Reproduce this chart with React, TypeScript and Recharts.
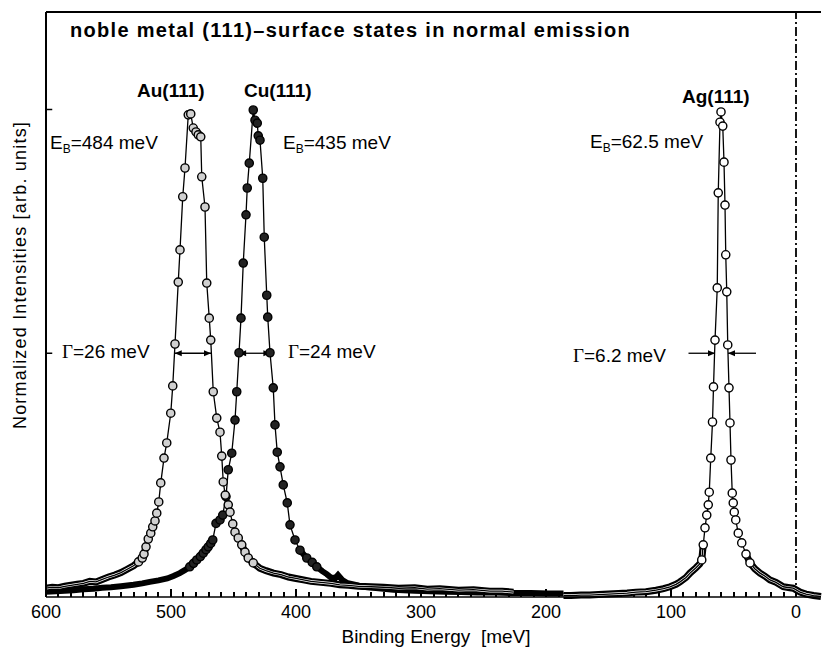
import { LineChart, Line, XAxis, YAxis, ReferenceLine } from 'recharts';

type Pt = { e: number; v: number };

// binding energy [meV], normalized intensity
const auPoints: [number, number][] = [
  [600, 0.018], [595, 0.02], [590, 0.019], [585, 0.022], [580, 0.024], [575, 0.026], [570, 0.028],
  [565, 0.032], [560, 0.031], [555, 0.036], [550, 0.041], [545, 0.045], [540, 0.05], [535, 0.057],
  [530, 0.064], [526, 0.072], [523, 0.08], [521.6, 0.088], [520, 0.103], [518.2, 0.119],
  [516.2, 0.131], [514.6, 0.144], [512.8, 0.156], [511.4, 0.172], [509.8, 0.195], [508.2, 0.234],
  [505.6, 0.285], [503.4, 0.316], [500.2, 0.377], [498.6, 0.433], [496.8, 0.519], [494.2, 0.646],
  [492.8, 0.712], [490.6, 0.821], [488.8, 0.88], [486.2, 0.989], [484.2, 0.991], [482.2, 0.962],
  [480, 0.954], [478.2, 0.948], [476.2, 0.944], [475.4, 0.862], [472.8, 0.8], [471.4, 0.644],
  [469.4, 0.572], [468.2, 0.527], [466.2, 0.421], [463.4, 0.367], [460.8, 0.338], [459.4, 0.289],
  [458.2, 0.236], [456.6, 0.209], [454.2, 0.189], [452.8, 0.174], [450.6, 0.15], [448.8, 0.133],
  [446.2, 0.121], [443.4, 0.107], [440.8, 0.092], [438.2, 0.08], [434.2, 0.07], [429, 0.059],
  [424, 0.054], [418, 0.049], [412, 0.046], [406, 0.041], [400, 0.038], [394, 0.035], [388, 0.032],
  [380, 0.03], [372, 0.028], [365, 0.025], [358, 0.024], [350, 0.022], [340, 0.021], [330, 0.02],
  [318, 0.018], [305, 0.019], [295, 0.016], [285, 0.017], [270, 0.014], [258, 0.015], [245, 0.012],
  [235, 0.012], [226, 0.01],
];

const cuPoints: [number, number][] = [
  [600, 0.011], [592, 0.012], [585, 0.013], [578, 0.014], [570, 0.016], [562, 0.017], [555, 0.019],
  [548, 0.02], [540, 0.022], [530, 0.025], [523, 0.028], [517, 0.031], [510, 0.034], [503, 0.038],
  [498, 0.043], [493, 0.049], [489, 0.055], [485, 0.062], [482, 0.069], [479.4, 0.076],
  [476.5, 0.083], [474.2, 0.09], [472, 0.097], [470.2, 0.103], [468.2, 0.11], [466.6, 0.117],
  [464, 0.151], [460.8, 0.158], [458.6, 0.168], [456, 0.206], [454.2, 0.261], [451.4, 0.295],
  [448.8, 0.363], [447.4, 0.421], [445.6, 0.501], [444, 0.572], [442.2, 0.685], [440, 0.784],
  [439, 0.839], [437.4, 0.89], [434.2, 0.999], [432.8, 0.978], [431, 0.972], [430.2, 0.946],
  [428.8, 0.937], [426.6, 0.859], [425.4, 0.738], [423.4, 0.619], [422.6, 0.574], [420.8, 0.501],
  [418.2, 0.429], [416.8, 0.353], [415, 0.297], [412.8, 0.267], [410.2, 0.23], [407, 0.193],
  [404.8, 0.148], [400.8, 0.117], [396.8, 0.096], [391.4, 0.08], [387, 0.071], [383.4, 0.062],
  [379, 0.053], [375.4, 0.047], [372, 0.04], [368.5, 0.039], [366.4, 0.045], [363, 0.035],
  [359.4, 0.029], [354, 0.026], [346.4, 0.021], [338, 0.019], [330, 0.017], [322, 0.015],
  [314, 0.014], [305, 0.013], [293, 0.012], [280, 0.011], [268, 0.01], [255, 0.009], [240, 0.009],
  [226, 0.008], [212, 0.008], [198, 0.007], [186, 0.007],
];

const agPoints: [number, number][] = [
  [186, 0.003], [180, 0.003], [172, 0.004], [165, 0.004], [158, 0.005], [150, 0.006], [142, 0.007],
  [135, 0.008], [128, 0.01], [120, 0.011], [112, 0.014], [106, 0.017], [100.8, 0.021], [96, 0.026],
  [92.8, 0.031], [88, 0.04], [84.8, 0.049], [80, 0.06], [77, 0.068], [75.4, 0.076], [74.2, 0.107],
  [72.8, 0.142], [71.4, 0.168], [70.2, 0.189], [69.4, 0.215], [68.2, 0.285], [66.8, 0.359],
  [66, 0.431], [64.8, 0.527], [63, 0.634], [62.2, 0.829], [60.8, 0.974], [60, 0.995], [58.6, 0.966],
  [57.6, 0.892], [56.8, 0.804], [56.2, 0.702], [55.4, 0.626], [54.6, 0.517], [53.6, 0.429],
  [52.8, 0.357], [52, 0.281], [51, 0.213], [50.2, 0.193], [49.4, 0.174], [48.2, 0.158],
  [46.2, 0.131], [43.4, 0.111], [40, 0.088], [36.8, 0.07], [33, 0.058], [28.8, 0.049], [25, 0.043],
  [20.8, 0.035], [16, 0.03], [10.2, 0.021], [5, 0.019], [2.2, 0.018], [-3.2, 0.01], [-8, 0.006],
  [-14, 0.003], [-20, 0.001],
];

const xLabels = [600, 500, 400, 300, 200, 100, 0];
const yTicks = [0.5, 1.0];
const halfLevel = 0.5;
const auHalf = [497, 468];
const cuHalf = [445.5, 420.5];
const agHalfLeft = [86, 64.8];
const agHalfRight = [32, 54.4];

const toPts = (a: [number, number][]): Pt[] => a.map(([e, v]) => ({ e, v }));
const auData = toPts(auPoints);
const cuData = toPts(cuPoints);
const agData = toPts(agPoints);

// inward ticks every 10 meV
const minorTicks = Array.from({ length: 61 }, (_, i) => 600 - i * 10);

const FONT = '"Liberation Sans", Arial, Helvetica, sans-serif';
const BAND = 0.11;
const band = (d: Pt) => (d.v < BAND ? d.v : null);

const dots = (fill: string, min: number, id: string) => (p: any) =>
  p.payload && p.payload.v >= min ? (
    <circle key={`${id}-${p.index}`} cx={p.cx} cy={p.cy} r={4.1} fill={fill} stroke="#000" strokeWidth={1.4} />
  ) : (
    <g key={`${id}-${p.index}`} />
  );

const arrow = (both: boolean) => (p: any) => {
  const { x1, y1, x2, y2 } = p;
  const head = (x: number, y: number, dir: number) => (
    <polygon points={`${x},${y} ${x - dir * 7},${y - 3} ${x - dir * 7},${y + 3}`} fill="#000" />
  );
  const d = x2 > x1 ? 1 : -1;
  return (
    <g>
      <line x1={x1} y1={y1} x2={x2} y2={y2} stroke="#000" strokeWidth={1.3} />
      {head(x2, y2, d)}
      {both && head(x1, y1, -d)}
    </g>
  );
};

// full-height reference line cut down to a short stub rising from the axis
const tickStub = (len: number) => (p: any) => {
  const bottom = Math.max(Number(p.y1), Number(p.y2));
  const x = Math.round(Number(p.x1));
  return <rect x={x - 1} y={bottom - len} width={2} height={len} fill="#000" stroke="none" />;
};

export default function App() {
  return (
    <div style={{ position: 'absolute', left: 0, top: 0, width: 822, height: 651, background: '#fff' }}>
      <LineChart width={822} height={651} margin={{ top: 12, right: 1, bottom: 0, left: 0 }}>
        <XAxis
          type="number"
          dataKey="e"
          domain={[-20, 600]}
          reversed
          ticks={xLabels}
          interval={0}
          tickLine={false}
          tickSize={6}
          tickMargin={2}
          height={54}
          axisLine={{ stroke: '#000', strokeWidth: 1.5 }}
          tick={{ fill: '#000', fontSize: 18, fontFamily: FONT }}
        />
        <YAxis
          type="number"
          domain={[0, 1.2]}
          width={46}
          tick={false}
          tickLine={false}
          axisLine={{ stroke: '#000', strokeWidth: 2 }}
        />

        {/* frame top + left inward ticks */}
        <ReferenceLine y={1.2} stroke="#000" strokeWidth={2} />
        {yTicks.map((t) => (
          <ReferenceLine key={`yt${t}`} segment={[{ x: 600, y: t }, { x: 595, y: t }]} stroke="#000" strokeWidth={1.5} />
        ))}
        {minorTicks.map((t) => (
          <ReferenceLine
            key={`xt${t}`}
            x={t}
            stroke="#000"
            ifOverflow="visible"
            shape={tickStub(xLabels.includes(t) ? 8 : 5)}
          />
        ))}

        {/* Fermi level */}
        <ReferenceLine x={0} stroke="#000" strokeWidth={1.8} strokeDasharray="9 3 2 3" />

        {/* Cu(111) – filled circles */}
        <Line data={cuData} dataKey={band} stroke="#000" strokeWidth={6} dot={false} isAnimationActive={false} connectNulls={false} />
        <Line data={cuData} dataKey="v" stroke="#000" strokeWidth={1.3} dot={dots('#222', 0.06, 'cu')} isAnimationActive={false} />

        {/* Au(111) – grey circles */}
        <Line data={auData} dataKey={band} stroke="#000" strokeWidth={7} dot={false} isAnimationActive={false} connectNulls={false} />
        <Line data={auData} dataKey={band} stroke="#fff" strokeWidth={2.6} dot={false} isAnimationActive={false} connectNulls={false} />
        <Line data={auData} dataKey="v" stroke="#000" strokeWidth={1.3} dot={dots('#d0d0d0', 0.07, 'au')} isAnimationActive={false} />

        {/* Ag(111) – open circles */}
        <Line data={agData} dataKey={band} stroke="#000" strokeWidth={7} dot={false} isAnimationActive={false} connectNulls={false} />
        <Line data={agData} dataKey={band} stroke="#fff" strokeWidth={2.6} dot={false} isAnimationActive={false} connectNulls={false} />
        <Line data={agData} dataKey="v" stroke="#000" strokeWidth={1.3} dot={dots('#fff', 0.07, 'ag')} isAnimationActive={false} />

        {/* FWHM markers */}
        <ReferenceLine segment={[{ x: auHalf[0], y: halfLevel }, { x: auHalf[1], y: halfLevel }]} shape={arrow(true)} />
        <ReferenceLine segment={[{ x: cuHalf[0], y: halfLevel }, { x: cuHalf[1], y: halfLevel }]} shape={arrow(true)} />
        <ReferenceLine segment={[{ x: agHalfLeft[0], y: halfLevel }, { x: agHalfLeft[1], y: halfLevel }]} shape={arrow(false)} />
        <ReferenceLine segment={[{ x: agHalfRight[0], y: halfLevel }, { x: agHalfRight[1], y: halfLevel }]} shape={arrow(false)} />
      </LineChart>

      <svg width={822} height={651} style={{ position: 'absolute', left: 0, top: 0, pointerEvents: 'none' }} fontFamily={FONT} fill="#000">
        <text x={70} y={37} fontSize={20} fontWeight="bold" letterSpacing={1.3}>
          noble metal (111)–surface states in normal emission
        </text>
        <text x={137} y={97} fontSize={19} fontWeight="bold">Au(111)</text>
        <text x={244} y={97} fontSize={19} fontWeight="bold">Cu(111)</text>
        <text x={682} y={103} fontSize={19} fontWeight="bold">Ag(111)</text>

        <text x={50} y={149} fontSize={19}>
          E<tspan fontSize={12} dy={4}>B</tspan><tspan dy={-4}>=484 meV</tspan>
        </text>
        <text x={283} y={149} fontSize={19}>
          E<tspan fontSize={12} dy={4}>B</tspan><tspan dy={-4}>=435 meV</tspan>
        </text>
        <text x={590} y={148} fontSize={19}>
          E<tspan fontSize={12} dy={4}>B</tspan><tspan dy={-4}>=62.5 meV</tspan>
        </text>

        <text x={62} y={358} fontSize={19}>
          <tspan fontFamily='"Liberation Serif", "Times New Roman", serif'>Γ</tspan>=26 meV
        </text>
        <text x={288} y={358} fontSize={19}>
          <tspan fontFamily='"Liberation Serif", "Times New Roman", serif'>Γ</tspan>=24 meV
        </text>
        <text x={573} y={362} fontSize={19}>
          <tspan fontFamily='"Liberation Serif", "Times New Roman", serif'>Γ</tspan>=6.2 meV
        </text>

        <text x={436} y={643} fontSize={19} textAnchor="middle" style={{ whiteSpace: 'pre' }}>
          Binding Energy  [meV]
        </text>
        <text
          x={0}
          y={0}
          fontSize={18}
          letterSpacing={1.2}
          textAnchor="middle"
          transform="translate(26,275) rotate(-90)"
        >
          Normalized Intensities [arb. units]
        </text>
      </svg>
    </div>
  );
}
